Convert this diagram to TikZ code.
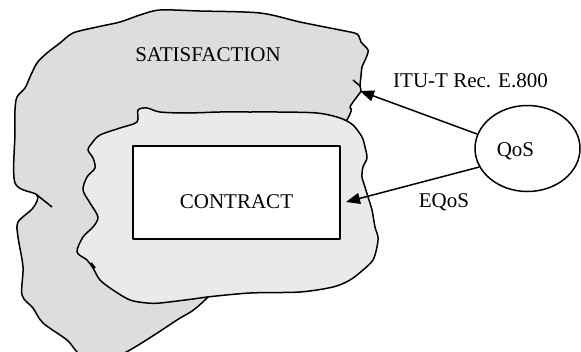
\documentclass[tikz,border=0pt]{standalone}
\usepackage{fontspec}
\setmainfont{Liberation Serif}
\usetikzlibrary{arrows.meta,shapes.geometric}

\begin{document}
\begin{tikzpicture}[x=1pt,y=-1pt,line join=round,
  font=\fontsize{21}{25}\selectfont,
  blob/.style={draw=black,line width=1.5pt},
  arr/.style={line width=1.5pt,-{Triangle[length=14pt,width=11pt]}}]
\useasboundingbox (0,0) rectangle (581,351);
\clip (0,0) rectangle (581,351);

% Outer region: satisfaction
\filldraw[blob,fill={rgb,255:red,221;green,221;blue,221}] plot[smooth cycle,tension=0.5] coordinates {
  (73,33) (97,27) (120,22) (140,15) (160,10) (200,11) (260,13) (300,22) (340,30)
  (357,34) (361,42) (368,50) (366,58) (362,67) (361,76) (360,86) (361,91) (356,98)
  (350,107) (348,118) (300,200) (207,298) (177,320) (118,356) (83,356) (67,340)
  (43,323) (33,308) (22,295) (23,267) (18,237) (18,222) (33,208) (37,195) (15,183)
  (15,133) (15,110) (17,97) (25,88) (30,77) (37,63) (47,53) (60,43)};
\draw[line width=1.5pt] (37,195) -- (52,207);
\draw[line width=1.5pt] (353,80) -- (360,86);
\node (sat) at (208,55) {SATISFACTION};

% Inner region around the contract
\filldraw[blob,fill={rgb,255:red,234;green,234;blue,234}] plot[smooth cycle,tension=0.5] coordinates {
  (138,110) (147,108) (160,112) (187,113) (220,112) (250,112) (277,112) (317,113)
  (340,118) (353,125) (362,137) (365,147) (367,158) (363,167) (362,177) (365,187)
  (368,197) (372,210) (375,227) (378,237) (377,247) (373,260) (363,270) (350,280)
  (333,287) (300,292) (250,293) (207,297) (193,299) (160,303) (147,303) (130,300)
  (113,290) (100,280) (93,268) (87,260) (77,252) (83,237) (93,227) (98,217) (90,203)
  (83,190) (87,177) (95,168) (93,158) (88,150) (92,143) (100,135) (120,128) (137,122)};
\draw[line width=2pt] (91,263) -- (95,268);

\node[draw,fill=white,line width=2.2pt,minimum width=207pt,minimum height=93pt,inner sep=0pt]
  (contract) at (236.5,192.5) {\raisebox{-9pt}[14pt][0pt]{CONTRACT}};

% QoS and the two arrows
\node[ellipse,draw,line width=1.5pt,minimum width=105pt,minimum height=86pt,
  label={[xshift=-12pt,yshift=-3pt]center:QoS}] (qos) at (527.5,148.5) {};
\coordinate (itu) at (360,91);
\coordinate (eq) at (346,202);
\draw[arr] (qos.164) -- (itu);
\draw[arr] (qos.201) -- (eq);
\node (itulab) at (470.5,80.5) {ITU-T Rec. E.800};
\node (eqlab) at (444,202) {EQoS};
\end{tikzpicture}
\end{document}
